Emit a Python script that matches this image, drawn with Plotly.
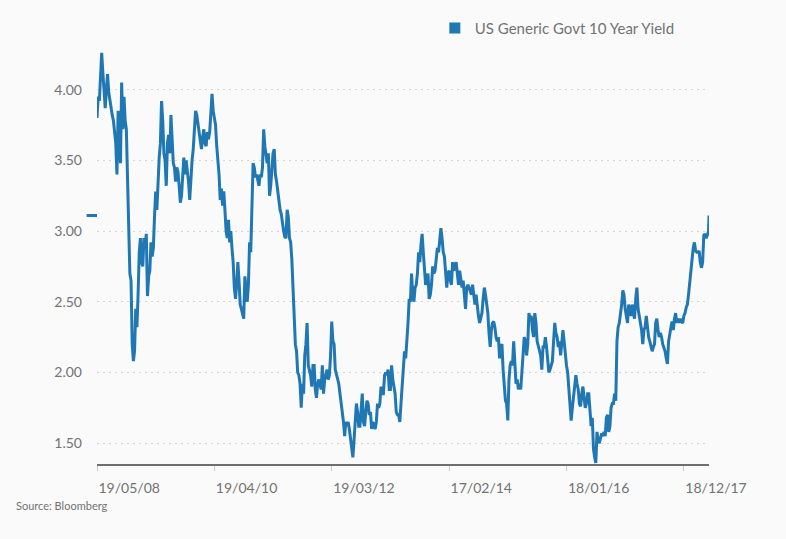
import pandas as pd
import plotly.graph_objects as go

# --- dane: tygodniowe rentownosci (poniedzialki) ---
y2008 = [3.80, 3.95, 3.92, 4.10, 4.26, 4.12, 3.98, 3.87, 4.00, 4.11, 3.98, 3.92, 3.86,
         3.82, 3.78, 3.68, 3.62, 3.40, 3.85, 3.60, 3.48, 4.05, 3.72, 3.95, 3.78, 3.72,
         3.30, 3.00, 2.70, 2.65, 2.20, 2.08, 2.15]
y2009 = [2.45, 2.32, 2.55, 2.85, 2.95, 2.78, 2.75, 2.95, 2.88, 2.98, 2.54, 2.68, 2.72,
         2.92, 2.82, 2.88, 3.10, 3.28, 3.15, 3.38, 3.52, 3.62, 3.92, 3.78, 3.55, 3.50,
         3.32, 3.62, 3.68, 3.55, 3.82, 3.65, 3.48, 3.45, 3.35, 3.45, 3.42, 3.32, 3.20,
         3.25, 3.42, 3.52, 3.40, 3.50, 3.42, 3.35, 3.22, 3.38, 3.50, 3.58, 3.72, 3.85]
y2010 = [3.82, 3.75, 3.68, 3.62, 3.58, 3.66, 3.72, 3.62, 3.60, 3.70, 3.65, 3.70, 3.88,
         3.97, 3.85, 3.78, 3.75, 3.60, 3.52, 3.40, 3.22, 3.30, 3.18, 3.28, 3.15, 3.00,
         2.95, 3.08, 2.92, 3.00, 2.88, 2.78, 2.60, 2.52, 2.62, 2.78, 2.65, 2.48, 2.45,
         2.40, 2.38, 2.68, 2.55, 2.50, 2.62, 2.92, 2.85, 3.20, 3.48, 3.45, 3.38, 3.40]
y2011 = [3.35, 3.32, 3.40, 3.38, 3.45, 3.72, 3.60, 3.52, 3.48, 3.55, 3.25, 3.32, 3.45,
         3.55, 3.58, 3.40, 3.35, 3.28, 3.18, 3.15, 3.12, 3.05, 3.00, 2.96, 2.95, 3.15,
         3.10, 2.95, 2.92, 2.80, 2.58, 2.32, 2.20, 2.15, 2.00, 1.98, 1.92, 1.75, 1.92,
         1.85, 2.12, 2.20, 2.35, 2.05, 2.02, 1.98, 1.90, 2.05, 2.05, 1.88, 1.82, 1.92]
y2012 = [1.95, 1.92, 1.88, 2.05, 1.85, 1.95, 1.98, 2.02, 1.95, 1.98, 2.12, 2.36, 2.22,
         2.20, 2.02, 1.98, 1.95, 1.92, 1.85, 1.78, 1.75, 1.65, 1.55, 1.65, 1.62, 1.65,
         1.60, 1.52, 1.48, 1.40, 1.52, 1.62, 1.78, 1.72, 1.62, 1.62, 1.78, 1.85, 1.65,
         1.62, 1.72, 1.80, 1.78, 1.70, 1.72, 1.60, 1.65, 1.62, 1.60, 1.65, 1.78, 1.75, 1.78]
y2013 = [1.90, 1.85, 1.85, 1.98, 2.00, 1.98, 2.02, 1.88, 1.88, 2.05, 1.95, 1.88, 1.85,
         1.72, 1.70, 1.70, 1.65, 1.78, 1.92, 2.00, 2.15, 2.10, 2.20, 2.35, 2.52, 2.50,
         2.70, 2.55, 2.50, 2.60, 2.62, 2.70, 2.85, 2.78, 2.90, 2.98, 2.85, 2.70, 2.62,
         2.65, 2.70, 2.52, 2.55, 2.62, 2.75, 2.70, 2.72, 2.80, 2.88, 2.85, 2.95, 3.02]
y2014 = [2.95, 2.85, 2.82, 2.72, 2.60, 2.70, 2.72, 2.65, 2.62, 2.78, 2.72, 2.75, 2.78,
         2.70, 2.62, 2.72, 2.65, 2.60, 2.65, 2.52, 2.45, 2.60, 2.62, 2.60, 2.58, 2.55,
         2.62, 2.52, 2.48, 2.55, 2.45, 2.40, 2.35, 2.38, 2.42, 2.52, 2.60, 2.55, 2.48,
         2.42, 2.28, 2.18, 2.30, 2.35, 2.36, 2.32, 2.25, 2.22, 2.25, 2.10, 2.18, 2.20]
y2015 = [2.02, 1.90, 1.80, 1.78, 1.66, 1.95, 2.05, 2.08, 2.05, 2.22, 2.10, 1.92, 1.95,
         1.88, 1.92, 1.88, 2.00, 2.15, 2.25, 2.22, 2.12, 2.20, 2.42, 2.38, 2.40, 2.30,
         2.25, 2.42, 2.35, 2.22, 2.18, 2.15, 2.12, 2.02, 2.18, 2.18, 2.25, 2.18, 2.05,
         2.00, 2.02, 2.05, 2.08, 2.22, 2.35, 2.28, 2.25, 2.18, 2.22, 2.12, 2.25, 2.30]
y2016 = [2.22, 2.10, 2.05, 2.00, 1.88, 1.75, 1.66, 1.75, 1.82, 1.90, 1.98, 1.92, 1.88,
         1.78, 1.76, 1.85, 1.90, 1.82, 1.75, 1.78, 1.85, 1.85, 1.72, 1.62, 1.68, 1.46,
         1.40, 1.36, 1.58, 1.52, 1.50, 1.55, 1.57, 1.55, 1.58, 1.55, 1.68, 1.70, 1.58,
         1.62, 1.75, 1.78, 1.78, 1.85, 1.80, 2.22, 2.32, 2.35, 2.40, 2.48, 2.58, 2.55]
y2017 = [2.45, 2.38, 2.35, 2.48, 2.45, 2.40, 2.48, 2.42, 2.38, 2.52, 2.60, 2.45, 2.38,
         2.35, 2.30, 2.20, 2.30, 2.32, 2.40, 2.32, 2.25, 2.22, 2.18, 2.15, 2.18, 2.20,
         2.35, 2.38, 2.30, 2.25, 2.28, 2.25, 2.20, 2.18, 2.15, 2.10, 2.06, 2.22, 2.28,
         2.32, 2.36, 2.30, 2.38, 2.42, 2.35, 2.38, 2.35, 2.38, 2.36, 2.35, 2.40, 2.42]
y2018 = [2.46, 2.48, 2.55, 2.62, 2.70, 2.80, 2.88, 2.92, 2.86, 2.85, 2.85, 2.86, 2.78,
         2.74, 2.78, 2.97, 2.98, 2.95, 2.97, 3.00]

# rok -> (pierwsza data, wartosci)
years = [("2008-05-19", y2008), ("2009-01-01", y2009), ("2010-01-01", y2010),
         ("2011-01-01", y2011), ("2012-01-01", y2012), ("2013-01-01", y2013),
         ("2014-01-01", y2014), ("2015-01-01", y2015), ("2016-01-01", y2016),
         ("2017-01-01", y2017), ("2018-01-01", y2018)]

last_date = "2018-05-17"
last_value = 3.11

tick_dates = ["2008-05-19", "2010-04-19", "2012-03-19", "2014-02-17", "2016-01-18", "2017-12-18"]
y_ticks = [1.5, 2.0, 2.5, 3.0, 3.5, 4.0]

series_name = "US Generic Govt 10 Year Yield"
source_text = "Source: Bloomberg"

# --- skladanie serii ---
dates = []
values = []
for start, vals in years:
    dates += list(pd.date_range(start, periods=len(vals), freq="W-MON"))
    values += vals
dates.append(pd.Timestamp(last_date))
values.append(last_value)

BLUE = "#1f77b4"
GREY = "#727272"
FONT = "Lato"

fig = go.Figure()

fig.add_trace(go.Scatter(
    x=dates, y=values, mode="lines",
    line=dict(color=BLUE, width=3),
    showlegend=False, hoverinfo="x+y"
))

# tylko do legendy (kwadracik)
fig.add_trace(go.Scatter(
    x=[None], y=[None], mode="markers", name=series_name,
    marker=dict(symbol="square", size=11, color=BLUE)
))

# znacznik ostatniej wartosci po lewej stronie osi
fig.add_shape(type="line", xref="paper", yref="y",
              x0=-0.017, x1=0, y0=last_value, y1=last_value,
              line=dict(color=BLUE, width=3))

fig.add_annotation(text=source_text, xref="paper", yref="paper",
                   x=-0.1356, y=-0.099, xanchor="left", yanchor="middle",
                   showarrow=False, font=dict(size=11, color=GREY, family=FONT))

fig.update_layout(
    width=786, height=539,
    margin=dict(l=97, r=77, t=40, b=75),
    paper_bgcolor="#fafafa", plot_bgcolor="#fafafa",
    font=dict(family=FONT, color=GREY, size=13),
    legend=dict(orientation="h", x=0.552, y=1.035, xanchor="left", yanchor="middle",
                font=dict(size=15, color=GREY), bgcolor="rgba(0,0,0,0)"),
)

fig.update_xaxes(
    type="date", range=[dates[0], last_date],
    tickvals=tick_dates,
    ticktext=[pd.Timestamp(d).strftime("%d/%m/%y") for d in tick_dates],
    ticklabelposition="outside right",
    showgrid=False, zeroline=False,
    showline=True, linecolor="#6e6e6e", linewidth=2,
    ticks="outside", ticklen=5, tickcolor="#c8c8c8", tickwidth=1,
    ticklabelstandoff=10,
    tickfont=dict(size=14, color=GREY),
)

fig.update_yaxes(
    range=[1.3525, 4.33],
    tickvals=y_ticks, tickformat=".2f",
    showgrid=True, gridcolor="#d6d6d6", griddash="2px,4px", gridwidth=1,
    zeroline=False, showline=False, ticks="",
    ticklabelstandoff=14,
    tickfont=dict(size=14, color=GREY),
)

# bez marginesu strony i bez paska narzedzi
fig.write_html("out.html", config={"displayModeBar": False},
               post_script="document.body.style.margin='0';")
